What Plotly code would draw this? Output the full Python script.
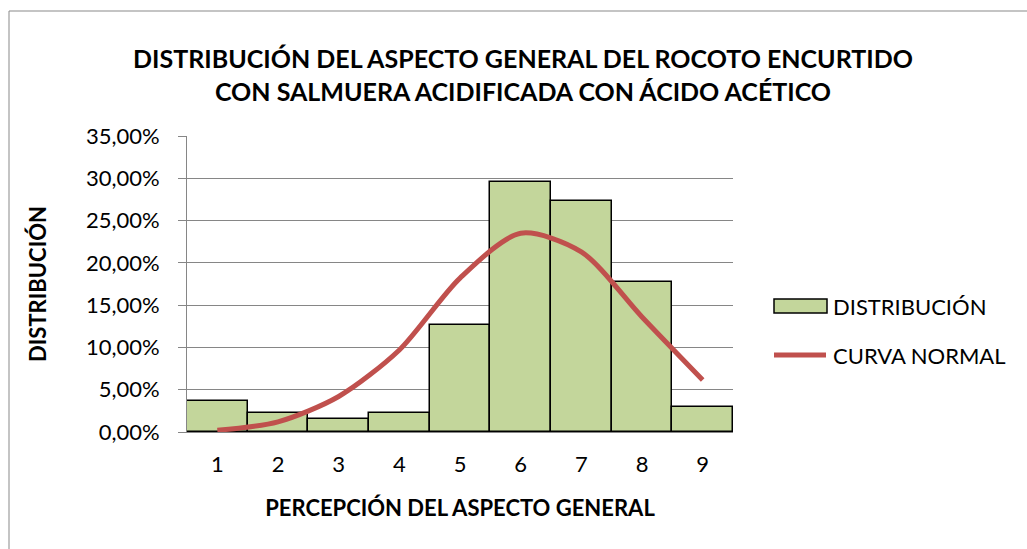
import plotly.graph_objects as go

categorias = [1, 2, 3, 4, 5, 6, 7, 8, 9]
distribucion = [3.67, 2.2, 1.5, 2.2, 12.6, 29.6, 27.35, 17.7, 3.0]
curva_normal = [0.2, 1.2, 4.2, 9.7, 18.2, 23.5, 21.3, 13.6, 6.15]
y_ticks = [0, 5, 10, 15, 20, 25, 30, 35]
y_labels = ["0,00%", "5,00%", "10,00%", "15,00%", "20,00%", "25,00%", "30,00%", "35,00%"]

W, H = 1027, 549
ml, mr, mt, mb = 187, 294, 136, 117
pw, ph = W - ml - mr, H - mt - mb

def px(x):
    return (x - ml) / pw

def py(y):
    return 1 - (y - mt) / ph

BAR_COLOR = "#C3D69B"
LINE_COLOR = "#C0504D"
font = "Lato, 'Open Sans', sans-serif"

fig = go.Figure()
fig.add_trace(go.Bar(
    x=categorias, y=distribucion, name="DISTRIBUCIÓN", showlegend=False,
    marker=dict(color=BAR_COLOR, line=dict(color="black", width=1.5)),
))
fig.add_trace(go.Scatter(
    x=categorias, y=curva_normal, name="CURVA NORMAL", mode="lines", showlegend=False,
    line=dict(color=LINE_COLOR, width=5, shape="spline", smoothing=0.8),
))

shapes = [
    dict(type="rect", xref="paper", yref="paper",
         x0=px(9), x1=px(1040), y0=py(11), y1=py(570),
         line=dict(color="#898989", width=1), layer="below"),
    dict(type="rect", xref="paper", yref="paper",
         x0=px(774), x1=px(827), y0=py(299), y1=py(313),
         fillcolor=BAR_COLOR, line=dict(color="black", width=1.5)),
    dict(type="line", xref="paper", yref="paper",
         x0=px(774), x1=px(826), y0=py(355), y1=py(355),
         line=dict(color=LINE_COLOR, width=5)),
]
annotations = [
    dict(text="DISTRIBUCIÓN", xref="paper", yref="paper", x=px(831), y=py(306),
         xanchor="left", yanchor="middle", showarrow=False, font=dict(size=22, family=font)),
    dict(text="CURVA NORMAL", xref="paper", yref="paper", x=px(831), y=py(355),
         xanchor="left", yanchor="middle", showarrow=False, font=dict(size=22, family=font)),
]

fig.update_layout(
    width=W, height=H,
    margin=dict(l=ml, r=mr, t=mt, b=mb, autoexpand=False),
    paper_bgcolor="white", plot_bgcolor="white",
    bargap=0,
    font=dict(family=font, color="black"),
    title=dict(
        text="<b>DISTRIBUCIÓN DEL ASPECTO GENERAL DEL ROCOTO ENCURTIDO<br>CON SALMUERA ACIDIFICADA CON ÁCIDO ACÉTICO</b>",
        x=523 / W, xanchor="center", y=1 - 68 / H, yanchor="middle",
        font=dict(size=25, family=font, color="black"),
    ),
    xaxis=dict(
        range=[0.5, 9.5], tickvals=categorias, ticktext=[str(c) for c in categorias],
        showgrid=False, showline=True, linecolor="#868686", linewidth=1,
        ticks="", tickfont=dict(size=22), ticklabelstandoff=13,
        title=dict(text="<b>PERCEPCIÓN DEL ASPECTO GENERAL</b>", font=dict(size=22), standoff=24),
        zeroline=False,
    ),
    yaxis=dict(
        range=[0, 35], tickvals=y_ticks, ticktext=y_labels,
        showgrid=True, gridcolor="#868686", gridwidth=1,
        showline=True, linecolor="#868686", linewidth=1,
        ticks="outside", ticklen=8, tickcolor="#868686",
        tickfont=dict(size=22), ticklabelstandoff=14, zeroline=False,
        title=dict(text="<b>DISTRIBUCIÓN</b>", font=dict(size=22), standoff=33),
    ),
    showlegend=False,
    shapes=shapes,
    annotations=annotations,
)
fig.write_html("out.html", config={"displayModeBar": False},
               post_script="document.body.style.margin='0';document.body.style.padding='0';")
